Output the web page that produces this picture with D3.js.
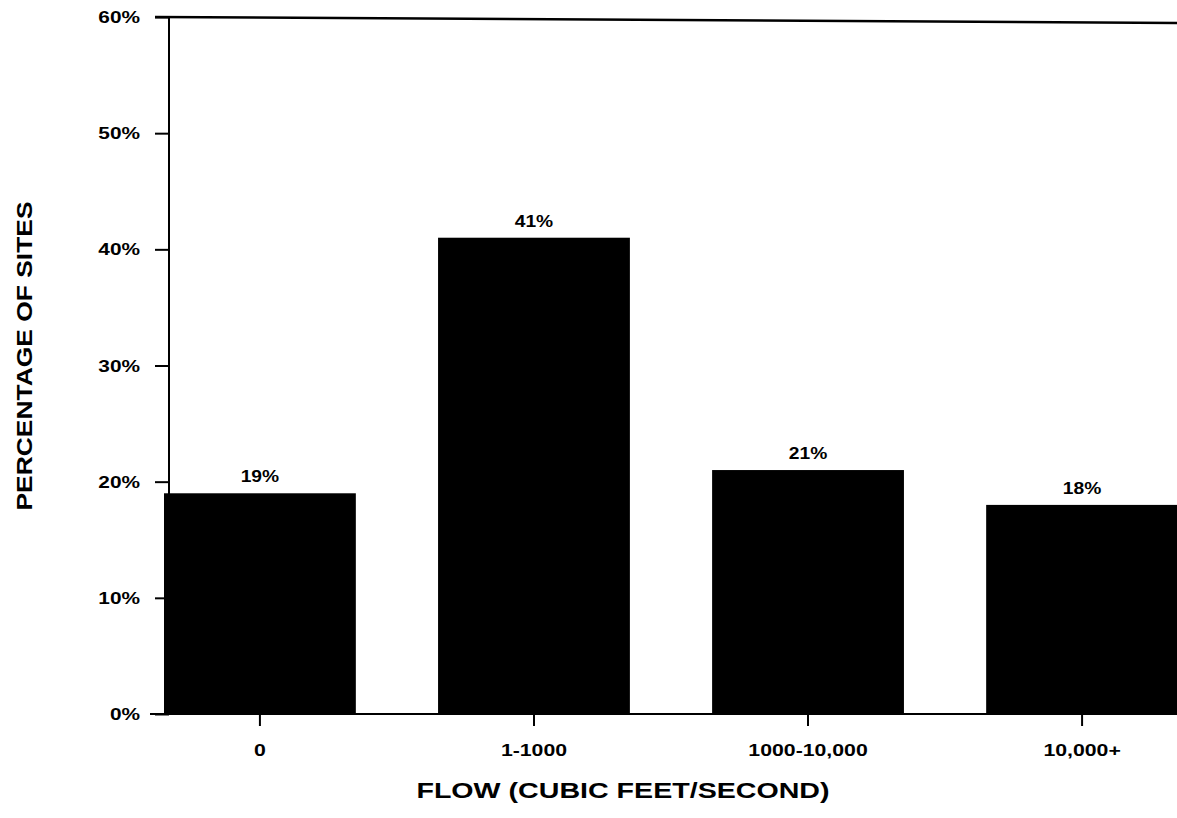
<!DOCTYPE html>
<html>
<head>
<meta charset="utf-8">
<script src="https://cdn.jsdelivr.net/npm/d3@7"></script>
<style>
  html, body { margin: 0; padding: 0; background: #fff; }
  svg { display: block; }
  text { font-family: "Liberation Sans", Arial, Helvetica, sans-serif; font-weight: bold; fill: #000; }
</style>
</head>
<body>
<svg id="chart" width="1177" height="818"></svg>
<script>
const categories = ["0", "1-1000", "1000-10,000", "10,000+"];
const values = [19, 41, 21, 18];
const valueLabels = ["19%", "41%", "21%", "18%"];
const yTicks = [0, 10, 20, 30, 40, 50, 60];

const svg = d3.select("#chart");

// widen text horizontally (the source uses an extended bold sans)
function stretch(sel, factor) {
  sel.each(function () {
    const w = this.getComputedTextLength();
    d3.select(this).attr("textLength", w * factor).attr("lengthAdjust", "spacingAndGlyphs");
  });
}

const y = d3.scaleLinear().domain([0, 60]).range([714, 17]);
const x = d3.scaleBand().domain(categories).range([164, 1178]).paddingInner(0.3).paddingOuter(0).align(0);

// top frame line
svg.append("line")
  .attr("x1", 155).attr("x2", 1177)
  .attr("y1", y(60)).attr("y2", y(60) + 6)
  .attr("stroke", "#000").attr("stroke-width", 2.5);

// bars
svg.append("g").selectAll("rect")
  .data(values)
  .join("rect")
  .attr("x", (d, i) => x(categories[i]))
  .attr("width", x.bandwidth())
  .attr("y", d => y(d))
  .attr("height", d => y(0) - y(d))
  .attr("fill", "#000");

// value labels
const vl = svg.append("g").selectAll("text")
  .data(values)
  .join("text")
  .attr("x", (d, i) => x(categories[i]) + x.bandwidth() / 2)
  .attr("y", d => y(d) - 11)
  .attr("text-anchor", "middle")
  .attr("font-size", 16)
  .text((d, i) => valueLabels[i]);
stretch(vl, 1.2);

// y axis
const yAxis = svg.append("g")
  .attr("transform", "translate(169,0)")
  .call(d3.axisLeft(y).tickValues(yTicks).tickSize(14).tickPadding(15).tickFormat(d => d + "%"));
yAxis.select(".domain").attr("stroke-width", 2).attr("d", `M0,${y(60)}V${y(0)}`);
yAxis.selectAll(".tick line").attr("stroke-width", 2);
const yt = yAxis.selectAll(".tick text")
  .attr("font-size", 16)
  .attr("font-family", "'Liberation Sans', Arial, sans-serif")
  .attr("font-weight", "bold")
  .attr("dy", "0.35em")
  .attr("text-anchor", "end");
stretch(yt, 1.3);

// x axis
const xAxis = svg.append("g")
  .attr("transform", `translate(0,${y(0)})`)
  .call(d3.axisBottom(x).tickSize(12));
xAxis.select(".domain").attr("stroke-width", 2).attr("d", "M150,0H1177");
xAxis.selectAll(".tick line").attr("stroke-width", 2);
const xt = xAxis.selectAll(".tick text")
  .attr("font-size", 17)
  .attr("font-family", "'Liberation Sans', Arial, sans-serif")
  .attr("font-weight", "bold")
  .attr("y", 42)
  .attr("dy", 0);
stretch(xt, 1.25);

// axis titles
const xTitle = svg.append("text")
  .attr("x", 623).attr("y", 798)
  .attr("text-anchor", "middle")
  .attr("font-size", 22)
  .text("FLOW (CUBIC FEET/SECOND)");
stretch(xTitle, 1.3);

const yTitle = svg.append("text")
  .attr("transform", "translate(32,356) rotate(-90)")
  .attr("text-anchor", "middle")
  .attr("font-size", 22)
  .text("PERCENTAGE OF SITES");
stretch(yTitle, 1.2);
</script>
</body>
</html>
